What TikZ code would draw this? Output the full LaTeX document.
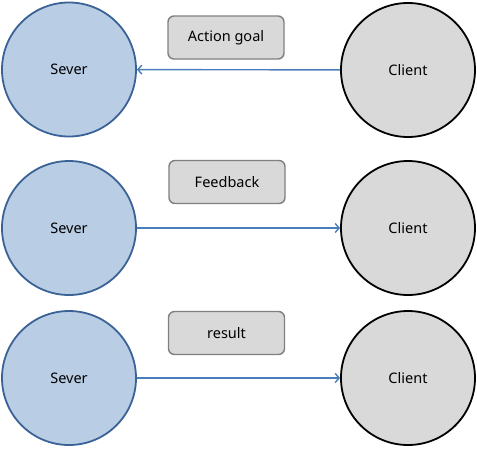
\documentclass[tikz,border=0pt]{standalone}
\usepackage{fontspec}
\setmainfont{Noto Sans}
\usetikzlibrary{arrows.meta}
\definecolor{severfill}{HTML}{B9CDE5}
\definecolor{severline}{HTML}{3B6296}
\definecolor{boxfill}{HTML}{D9D9D9}
\definecolor{linkblue}{HTML}{4A7EBB}
\begin{document}
\begin{tikzpicture}[x=1pt, y=-1pt, font=\fontsize{14.5}{17}\selectfont,
		sever/.style={circle, draw=severline, fill=severfill, line width=1.8pt, minimum size=134pt, inner sep=0pt},
		client/.style={circle, draw=black, fill=boxfill, line width=1.8pt, minimum size=134pt, inner sep=0pt},
		msg/.style={draw=gray, fill=boxfill, line width=1.4pt, rounded corners=6pt, minimum width=116pt, minimum height=43pt},
		link/.style={draw=linkblue, line width=1.4pt, -{Straight Barb[length=4pt, width=9pt, line width=1.4pt]}}]
			\useasboundingbox (0,0) rectangle (477,448);
			\node foreach \n/\y in {1/69.5,2/228,3/378} [sever] (s\n) at (69,\y) {Sever};
			\node foreach \n/\y in {1/70,2/228,3/378} [client] (c\n) at (408,\y) {Client};
			\node[msg] (goal) at (226,37.5) {Action goal};
			\node[msg] (feedback) at (227,182) {Feedback};
			\node[msg] (result) at (226.5,333) {result};
			\draw[link]
				(c1) edge (s1)
				(s2) edge (c2)
				(s3) edge (c3);
		\end{tikzpicture}
\end{document}
